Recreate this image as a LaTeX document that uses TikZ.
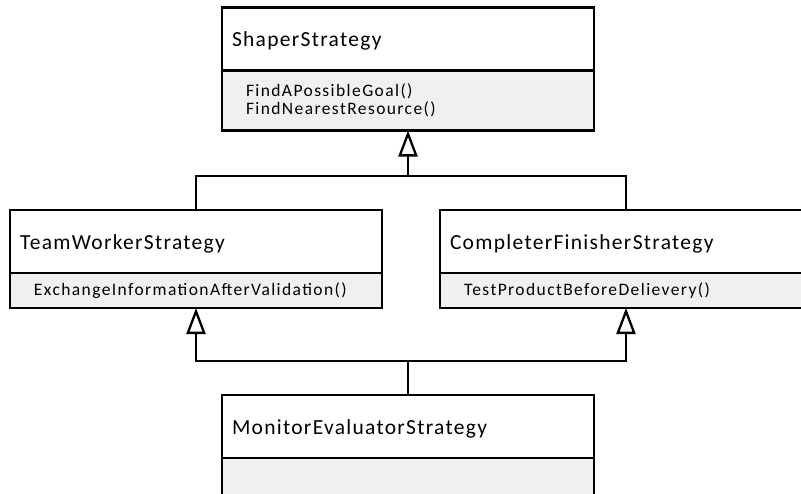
\documentclass[tikz,border=0pt]{standalone}
\usepackage{fontspec}
\setmainfont{Carlito}[LetterSpace=6]
\newfontfamily\methfont{Carlito}[LetterSpace=8]
\usetikzlibrary{positioning,arrows.meta}
\hyphenpenalty=10000

\begin{document}
\begin{tikzpicture}[x=1pt,y=-1pt,line width=2.3pt,
        classname/.style={draw,outer sep=0pt,minimum width=372pt,minimum height=63pt,
            inner xsep=10pt,text width=352pt,align=left,text height=17pt,text depth=2pt,
            font=\fontsize{21.5}{24}\selectfont},
        methods/.style={draw,fill=black!6,outer sep=0pt,minimum width=372pt,minimum height=35pt,
            inner xsep=24pt,text width=324pt,align=left,
            font=\methfont\fontsize{17.5}{17.5}\selectfont},
        inherit/.style={-{Triangle[open,length=26pt,width=19pt]}}]
    \path[use as bounding box,clip] (0,0) rectangle (801,493);
    % classes
    \node[classname] (shapername) at (408,39) {ShaperStrategy};
    \node[methods,minimum height=60pt,below=0pt of shapername] (shapermeth) {FindAPossibleGoal()\\FindNearestResource()};
    \node[classname] (teamname) at (196,241.5) {TeamWorkerStrategy};
    \node[methods,below=0pt of teamname] (teammeth) {ExchangeInformationAfterValidation()};
    \node[classname] (completername) at (626,241.5) {CompleterFinisherStrategy};
    \node[methods,below=0pt of completername] (completermeth) {TestProductBeforeDelievery()};
    \node[classname] (monitorname) at (408,426.5) {MonitorEvaluatorStrategy};
    \node[methods,minimum height=37pt,below=0pt of monitorname] (monitormeth) {};
    % generalisations
    \coordinate (topbus) at (408,176);
    \coordinate (lowbus) at (408,361);
    \draw (teamname.north) |- (topbus) -| (completername.north);
    \draw[inherit] (topbus) -- (shapermeth.south);
    \draw[inherit] (lowbus) -| (teammeth.south);
    \draw[inherit] (lowbus) -| (completermeth.south);
    \draw (monitorname.north) -- (lowbus);
\end{tikzpicture}
\end{document}
